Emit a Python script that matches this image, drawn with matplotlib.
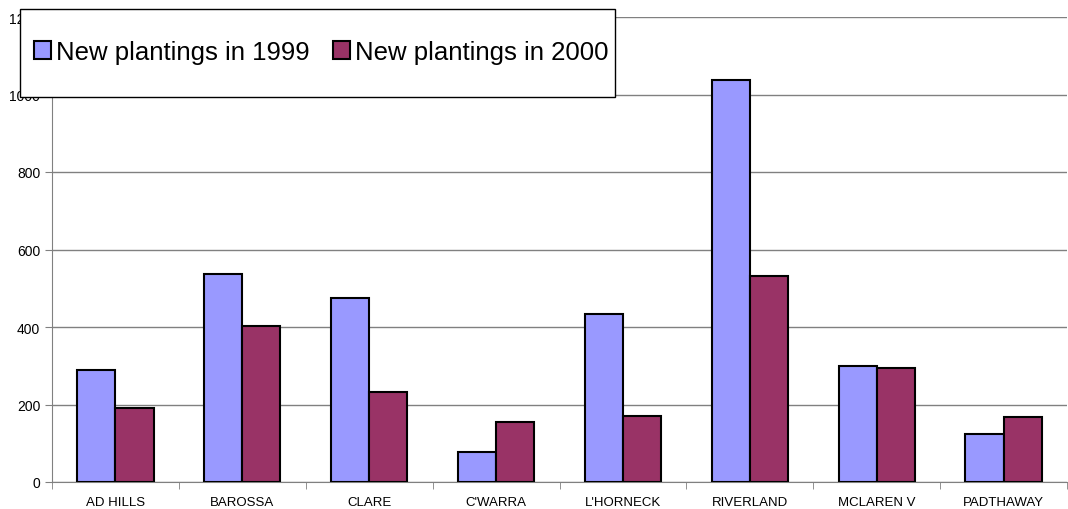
import numpy as np
import matplotlib.pyplot as plt
from matplotlib.patches import Rectangle

plt.rcParams['font.family'] = ['Liberation Sans', 'DejaVu Sans']

regions = ['AD HILLS', 'BAROSSA', 'CLARE', "C'WARRA", "L'HORNECK",
           'RIVERLAND', 'MCLAREN V', 'PADTHAWAY']
plant_1999 = [289, 537, 475, 77, 434, 1037, 299, 124]
plant_2000 = [191, 403, 232, 155, 170, 532, 294, 168]

W, H = 1068, 510
fig = plt.figure(figsize=(W / 100, H / 100), dpi=100)
ax = fig.add_axes([52 / W, 27 / H, 1015 / W, 465 / H])

x = np.arange(len(regions))
w = 0.3
ax.bar(x - w / 2, plant_1999, w, color='#9999FF', edgecolor='black',
       linewidth=1.5, label='New plantings in 1999', zorder=3)
ax.bar(x + w / 2, plant_2000, w, color='#993366', edgecolor='black',
       linewidth=1.5, label='New plantings in 2000', zorder=3)

ax.set_xlim(-0.5, len(regions) - 0.5)
ax.set_ylim(0, 1200)
ax.set_yticks(range(0, 1201, 200))
ax.yaxis.grid(True, color='#808080', linewidth=1, zorder=0)

ax.set_xticks(x)
ax.set_xticklabels(regions, fontsize=9.5)
ax.tick_params(axis='x', length=0, pad=10)
ax.set_xticks(np.arange(-0.5, len(regions)), minor=True)
ax.tick_params(axis='x', which='minor', length=5, direction='out', color='#808080')
ax.tick_params(axis='y', labelsize=10, length=5, color='#808080')

for s in ['top', 'right']:
    ax.spines[s].set_visible(False)
ax.spines['left'].set_color('#808080')
ax.spines['bottom'].set_color('#808080')

# legend box sits over the top-left corner of the plot
box = Rectangle((20 / W, 1 - 98 / H), 595 / W, 88 / H, transform=fig.transFigure,
                facecolor='white', edgecolor='black', linewidth=1, zorder=9)
fig.add_artist(box)
leg = fig.legend(loc='center left', bbox_to_anchor=(34 / W, 1 - 53 / H),
                 ncol=2, fontsize=18.5, frameon=False,
                 handlelength=0.66, handleheight=0.66,
                 handletextpad=0.2, columnspacing=0.9, borderpad=0,
                 borderaxespad=0)
leg.set_zorder(10)

fig.savefig('out.png', dpi=100)
